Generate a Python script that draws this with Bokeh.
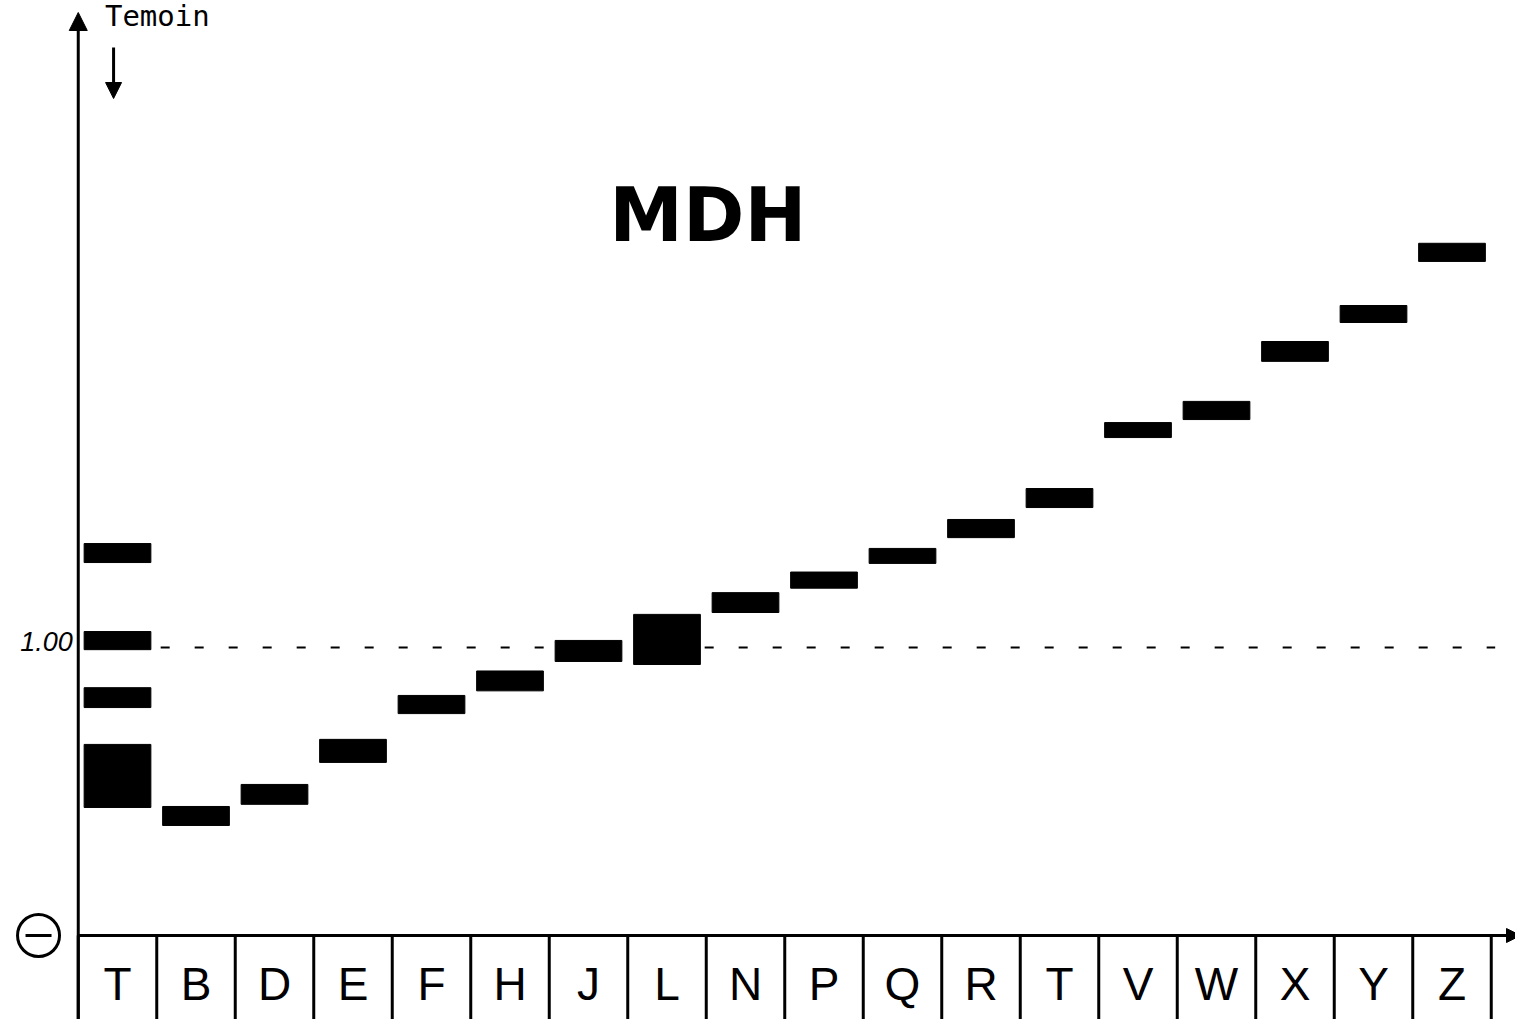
from bokeh.plotting import figure
from bokeh.models import Range1d, Arrow, NormalHead, ColumnDataSource
from bokeh.core.properties import value
from bokeh.embed import file_html
from bokeh.resources import INLINE

# ---- data -------------------------------------------------------------
lanes = ["T", "B", "D", "E", "F", "H", "J", "L", "N", "P", "Q", "R",
         "T", "V", "W", "X", "Y", "Z"]
band_lane = [0, 0, 0, 0, 1, 2, 3, 4, 5, 6, 7, 8, 9, 10, 11, 12, 13, 14, 15, 16, 17]
band_mobility = [1.328, 1.024, 0.826, 0.554, 0.415, 0.490, 0.641, 0.802, 0.884,
                 0.988, 1.028, 1.156, 1.234, 1.318, 1.413, 1.519, 1.755, 1.823,
                 2.028, 2.158, 2.372]
band_spread = [0.066, 0.063, 0.069, 0.219, 0.066, 0.069, 0.080, 0.063, 0.069,
               0.073, 0.174, 0.069, 0.056, 0.052, 0.063, 0.066, 0.052, 0.063,
               0.069, 0.059, 0.063]
reference_mobility = 1.00
reference_label = "1.00"
title = "MDH"
control_label = "Temoin"

# ---- figure -----------------------------------------------------------
W, H = 1515, 1019
px_per_x = 78.5
px_per_y = 288.0
x0 = -117 / px_per_x
x1 = x0 + W / px_per_x
y1 = 935 / px_per_y
y0 = y1 - H / px_per_y

p = figure(width=W, height=H, x_range=Range1d(x0, x1), y_range=Range1d(y0, y1),
           output_backend="svg", toolbar_location=None, min_border=0,
           x_axis_location=None, y_axis_location=None,
           outline_line_color=None, background_fill_color="white",
           border_fill_color="white")
p.grid.visible = False

n = len(lanes)

# dashed reference line
p.segment(x0=[0.55], y0=[reference_mobility], x1=[n - 0.45], y1=[reference_mobility],
          line_color="black", line_width=2, line_dash="9 25")

# bands
src = ColumnDataSource(dict(x=band_lane, y=band_mobility, h=band_spread))
p.rect(x="x", y="y", width=0.85, height="h", source=src,
       fill_color="black", line_color="black", line_width=1)

# lane dividers below the baseline
bounds = [i - 0.5 for i in range(n + 1)]
p.segment(x0=bounds, y0=[0] * len(bounds), x1=bounds, y1=[y0] * len(bounds),
          line_color="black", line_width=3)

# baseline (x axis) with arrow
p.add_layout(Arrow(end=NormalHead(size=14, fill_color="black", line_color="black"),
                   x_start=-0.5, y_start=0, x_end=(1520 - 117) / px_per_x, y_end=0,
                   line_color="black", line_width=3))
# vertical axis with arrow
p.add_layout(Arrow(end=NormalHead(size=18, fill_color="black", line_color="black"),
                   x_start=-0.5, y_start=y0, x_end=-0.5, y_end=(935 - 12) / px_per_y,
                   line_color="black", line_width=3))
# small arrow under "Temoin"
p.add_layout(Arrow(end=NormalHead(size=16, fill_color="black", line_color="black"),
                   x_start=-0.05, y_start=(935 - 47) / px_per_y,
                   x_end=-0.05, y_end=(935 - 98) / px_per_y,
                   line_color="black", line_width=3))

# lane labels
p.text(x=list(range(n)), y=[-0.167] * n, text=lanes,
       text_font=value("Liberation Sans"), text_font_size="46px",
       text_align="center", text_baseline="middle", text_color="black")

# title
p.text(x=[7.52], y=[(935 - 214) / px_per_y], text=[title],
       text_font=value("DejaVu Sans"), text_font_style="bold",
       text_font_size="74px", text_align="center", text_baseline="alphabetic",
       text_color="black")

# control label
p.text(x=[-0.16], y=[(935 - 15) / px_per_y], text=[control_label],
       text_font=value("DejaVu Sans Mono"), text_font_size="29px",
       text_align="left", text_baseline="alphabetic", text_color="black")

# reference label
p.text(x=[-0.57], y=[reference_mobility + 0.022], text=[reference_label],
       text_font=value("Liberation Sans"), text_font_style="italic",
       text_font_size="27px", text_align="right", text_baseline="middle",
       text_color="black")

# cathode sign at the origin
p.scatter(x=[-1.006], y=[0], marker="circle", size=42, fill_color=None,
          line_color="black", line_width=3)
p.scatter(x=[-1.006], y=[0], marker="dash", size=26, line_color="black",
          line_width=3)

open("out.html", "w").write(file_html(p, INLINE))
